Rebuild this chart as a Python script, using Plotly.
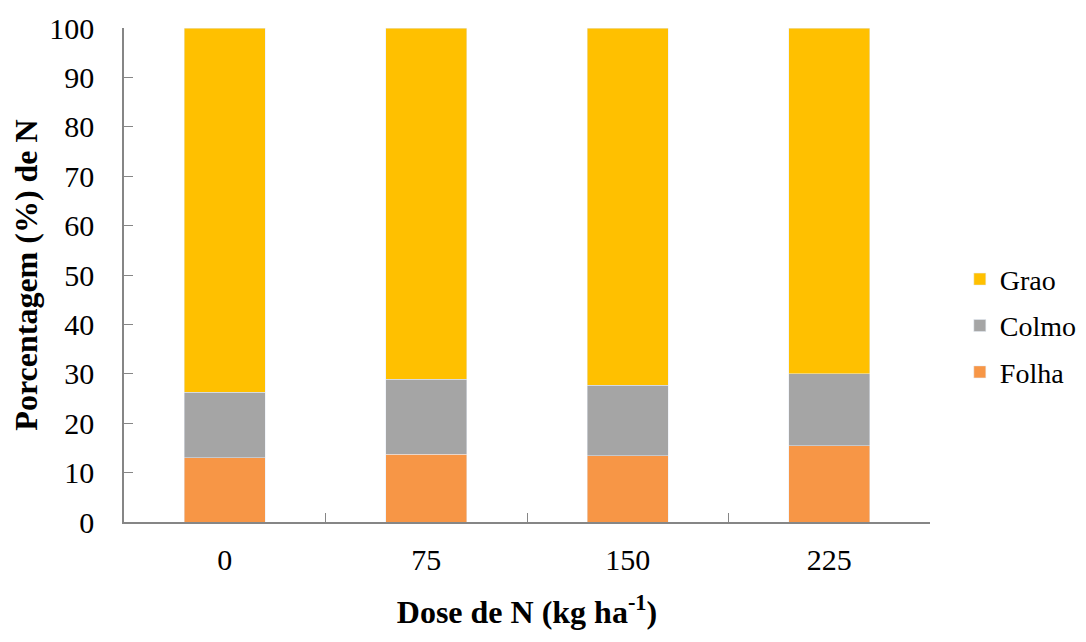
import plotly.graph_objects as go

doses = ["0", "75", "150", "225"]
folha = [13.0, 13.7, 13.4, 15.4]
colmo = [13.3, 15.2, 14.3, 14.6]
grao = [73.7, 71.1, 72.3, 70.0]

font_family = "Liberation Serif"
axis_color = "#868686"

fig = go.Figure()
fig.add_trace(go.Bar(x=doses, y=folha, name="Folha", marker_color="#F79646",
                     legendgroup="f", legendrank=3))
fig.add_trace(go.Bar(x=doses, y=colmo, name="Colmo", marker_color="#A5A5A5",
                     legendgroup="c", legendrank=2))
fig.add_trace(go.Bar(x=doses, y=grao, name="Grao", marker_color="#FFC000",
                     legendgroup="g", legendrank=1))

fig.update_layout(
    width=1086, height=642,
    barmode="stack",
    bargap=0.6,
    paper_bgcolor="white", plot_bgcolor="white",
    margin=dict(l=116, r=157, t=20, b=128),
    font=dict(family=font_family, size=30, color="black"),
    legend=dict(
        x=1.037, y=0.397, xanchor="left", yanchor="middle",
        traceorder="grouped", tracegroupgap=7,
        font=dict(size=28, family=font_family),
        itemwidth=30,
    ),
    xaxis=dict(
        type="category", tickson="boundaries", ticks="inside", ticklen=9,
        tickcolor=axis_color, showline=True, linecolor=axis_color, linewidth=1.5,
        range=[-0.5, 3.5], tickfont=dict(size=30, family=font_family), ticklabelstandoff=10,
        automargin=False,
        title=dict(text="<b>Dose de N (kg ha<sup>-1</sup>)</b>", standoff=26,
                   font=dict(size=32, family=font_family)),
    ),
    yaxis=dict(
        range=[0, 100], dtick=10, ticks="inside", ticklen=9,
        tickcolor=axis_color, showline=True, linecolor=axis_color, linewidth=1.5,
        showgrid=False, zeroline=False, tickfont=dict(size=30, family=font_family),
        ticklabelstandoff=22, automargin=False,
        title=dict(text="<b>Porcentagem (%) de N</b>", standoff=8,
                   font=dict(size=32, family=font_family)),
    ),
)

fig.write_html("out.html")
